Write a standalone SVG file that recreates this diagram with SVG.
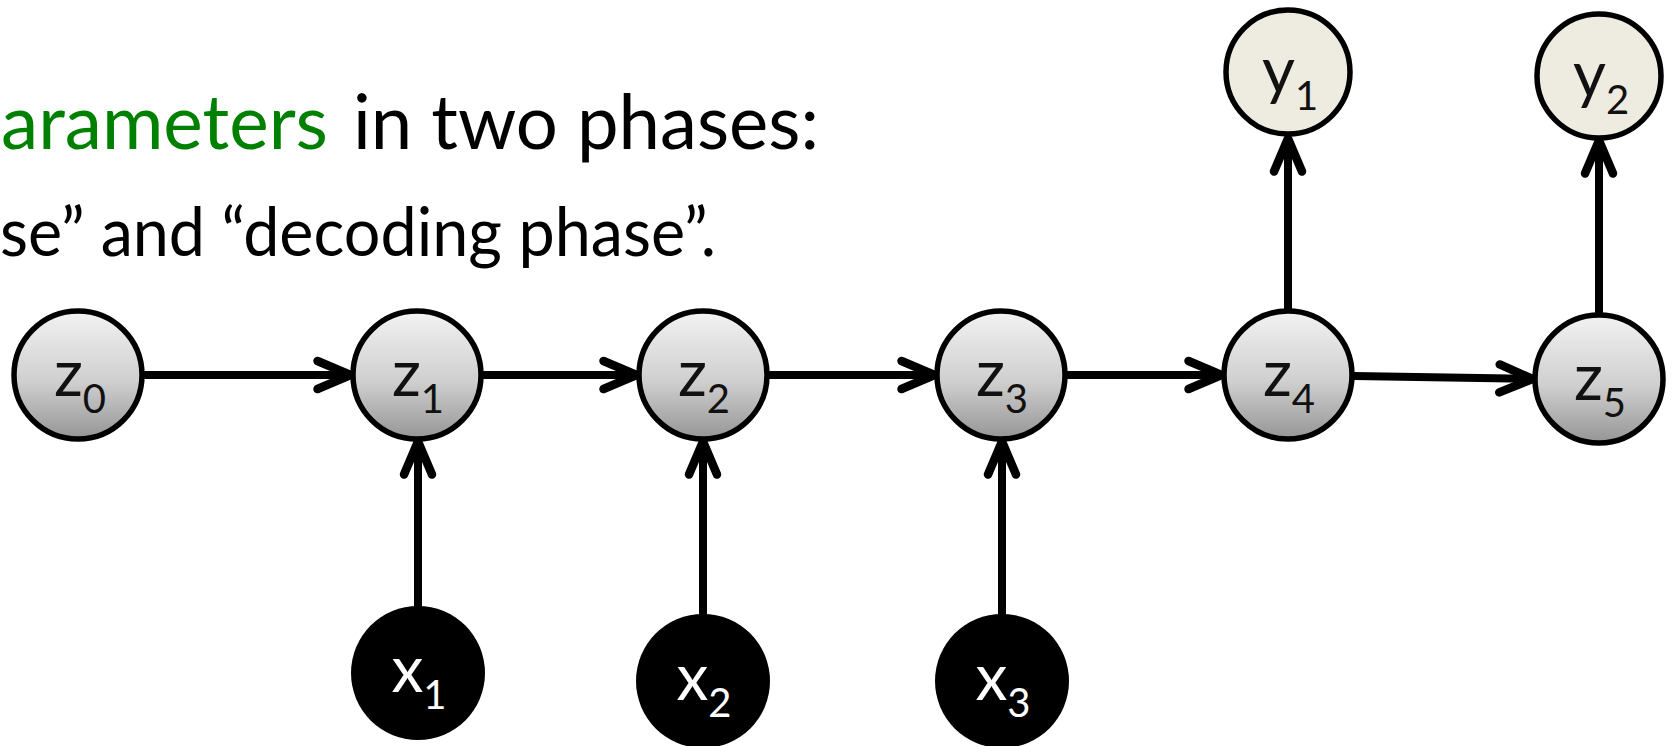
<svg xmlns="http://www.w3.org/2000/svg" width="1678" height="746" viewBox="0 0 1678 746">
  <style>
    .title { font-family: Lato, "Liberation Sans", sans-serif; fill: #000; }
    .green { fill: #008000; }
    .lbl { font-family: Lato, "Liberation Sans", sans-serif; font-size: 64px; text-anchor: middle; fill: #111; }
    .lbl .sub { font-size: 40px; }
    .lbl.inv { fill: #fff; }
    .zn { fill: url(#zgrad); stroke: #000; stroke-width: 5.5; }
    .yn { fill: #EEECE1; stroke: #000; stroke-width: 5.5; }
    .xn { fill: #000; }
    .edge { fill: none; stroke: #000; stroke-width: 8; marker-end: url(#chev); }
  </style>
  <defs>
    <linearGradient id="zgrad" x1="0" y1="0" x2="0" y2="1">
      <stop offset="0" stop-color="#F2F2F2"/>
      <stop offset="0.55" stop-color="#CFCFCF"/>
      <stop offset="1" stop-color="#959595"/>
    </linearGradient>
    <!-- open chevron arrowhead; tip sits 3px beyond the line end -->
    <marker id="chev" markerUnits="userSpaceOnUse" orient="auto" refX="0" refY="0"
            markerWidth="60" markerHeight="60" overflow="visible">
      <path d="M-30,-14 L3,0 L-30,14" fill="none" stroke="#000" stroke-width="8.5"
            stroke-linecap="round" stroke-linejoin="round"/>
    </marker>
  </defs>

  <!-- heading text -->
  <g id="heading">
    <text class="title" font-size="76" y="149">
      <tspan class="green" x="1" textLength="327" lengthAdjust="spacingAndGlyphs">arameters</tspan>
      <tspan x="353" textLength="466" lengthAdjust="spacingAndGlyphs">in two phases:</tspan>
    </text>
    <text class="title" font-size="68" x="0" y="256" textLength="716" lengthAdjust="spacingAndGlyphs">se” and “decoding phase”.</text>
  </g>

  <!-- connectors -->
  <g id="connectors">
    <path class="edge" d="M144,375 L347.5,375"/>
    <path class="edge" d="M483,375 L633.5,375"/>
    <path class="edge" d="M769,375 L931.5,375"/>
    <path class="edge" d="M1067,375 L1218.5,375"/>
    <path class="edge" d="M1354,376 L1529.5,378.9"/>
    <path class="edge" d="M1288,309 L1288,141.5"/>
    <path class="edge" d="M1599,313 L1599,143.5"/>
    <path class="edge" d="M418,607 L418,444.5"/>
    <path class="edge" d="M703,615 L703,444.5"/>
    <path class="edge" d="M1002,615 L1002,444.5"/>
  </g>

  <!-- hidden states -->
  <g id="z0"><circle class="zn" cx="78" cy="375" r="64"/><text class="lbl" x="80" y="396">z<tspan class="sub" dy="17">0</tspan></text></g>
  <g id="z1"><circle class="zn" cx="417" cy="375" r="64"/><text class="lbl" x="418" y="396">z<tspan class="sub" dy="17">1</tspan></text></g>
  <g id="z2"><circle class="zn" cx="703" cy="375" r="64"/><text class="lbl" x="704" y="396">z<tspan class="sub" dy="17">2</tspan></text></g>
  <g id="z3"><circle class="zn" cx="1001" cy="375" r="64"/><text class="lbl" x="1002" y="396">z<tspan class="sub" dy="17">3</tspan></text></g>
  <g id="z4"><circle class="zn" cx="1288" cy="375" r="64"/><text class="lbl" x="1289" y="396">z<tspan class="sub" dy="17">4</tspan></text></g>
  <g id="z5"><circle class="zn" cx="1599" cy="379" r="64"/><text class="lbl" x="1600" y="400">z<tspan class="sub" dy="17">5</tspan></text></g>

  <!-- outputs -->
  <g id="y1"><circle class="yn" cx="1288" cy="72" r="62"/><text class="lbl" x="1290" y="93">y<tspan class="sub" dy="17">1</tspan></text></g>
  <g id="y2"><circle class="yn" cx="1599" cy="76" r="62"/><text class="lbl" x="1601" y="97">y<tspan class="sub" dy="17">2</tspan></text></g>

  <!-- inputs -->
  <g id="x1"><circle class="xn" cx="418" cy="673" r="67"/><text class="lbl inv" x="419" y="692">x<tspan class="sub" dy="17">1</tspan></text></g>
  <g id="x2"><circle class="xn" cx="703" cy="681" r="67"/><text class="lbl inv" x="704" y="700">x<tspan class="sub" dy="17">2</tspan></text></g>
  <g id="x3"><circle class="xn" cx="1002" cy="681" r="67"/><text class="lbl inv" x="1003" y="700">x<tspan class="sub" dy="17">3</tspan></text></g>
</svg>
